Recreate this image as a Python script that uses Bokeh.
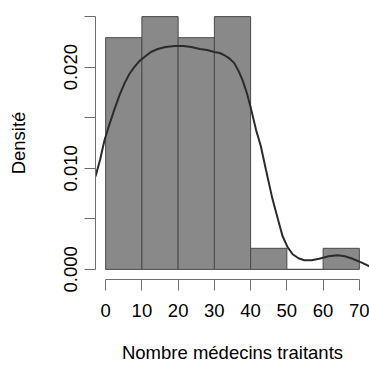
from bokeh.plotting import figure
from bokeh.models import Range1d, FixedTicker
from bokeh.embed import file_html
from bokeh.resources import INLINE

# Histogram classes (number of treating doctors) and their counts
breaks = [0, 10, 20, 30, 40, 50, 60, 70]
counts = [11, 12, 11, 12, 1, 0, 1]

# Kernel density estimate, sampled along x
kde_x = [-2.8, -1.5, -0.3, 1.0, 2.4, 3.8, 5.2, 6.5, 7.9, 9.3, 10.7, 12.5, 14.4,
         16.5, 19.0, 21.5, 23.6, 26.0, 28.0, 30.0, 31.5, 32.7, 34.0, 35.5, 36.7,
         37.8, 39.0, 40.1, 41.5, 42.8, 44.2, 46.0, 47.5, 48.8, 50.2, 51.6, 53.2,
         54.8, 56.8, 58.9, 61.5, 64.0, 66.0, 68.1, 70.5, 72.8]
kde_y = [0.0092, 0.0109, 0.0128, 0.0143, 0.0158, 0.0172, 0.0184, 0.0193, 0.0200,
         0.0206, 0.0210, 0.0215, 0.0218, 0.0220, 0.0221, 0.0221, 0.0220, 0.0218,
         0.0217, 0.0215, 0.0214, 0.0212, 0.0209, 0.0204, 0.0196, 0.0187, 0.0174,
         0.0159, 0.0138, 0.0122, 0.0099, 0.0070, 0.0050, 0.0033, 0.0022, 0.0015,
         0.0011, 0.0009, 0.0009, 0.00105, 0.0013, 0.0014, 0.0013, 0.00105, 0.0007,
         0.0003]

x_ticks = [0, 10, 20, 30, 40, 50, 60, 70]
y_ticks = [0.0, 0.005, 0.010, 0.015, 0.020, 0.025]
y_labels = {0.0: "0.000", 0.005: "", 0.010: "0.010", 0.015: "", 0.020: "0.020", 0.025: ""}

total = sum(counts)
lefts = breaks[:-1]
rights = breaks[1:]
density = [c / (total * (r - l)) for c, l, r in zip(counts, lefts, rights)]

FONT = "Liberation Sans"
SIZE = "18.5px"

p = figure(width=369, height=365, output_backend="svg", toolbar_location=None,
           x_range=Range1d(-2.8, 72.8), y_range=Range1d(-0.001, 0.026),
           min_border_left=95, min_border_right=0, min_border_top=6,
           min_border_bottom=85)
p.outline_line_color = None
p.xgrid.grid_line_color = None
p.ygrid.grid_line_color = None
p.background_fill_color = "white"
p.border_fill_color = "white"

p.quad(left=lefts, right=rights, top=density, bottom=0,
       fill_color="#898989", line_color="#4a4a4a", line_width=1)
p.line(kde_x, kde_y, line_color="#2b2b2b", line_width=2)

for ax in (p.xaxis[0], p.yaxis[0]):
    ax.axis_line_color = "#6e6e6e"
    ax.major_tick_line_color = "#6e6e6e"
    ax.minor_tick_line_color = None
    ax.major_tick_in = 0
    ax.major_tick_out = 11
    ax.major_label_text_font = FONT
    ax.major_label_text_font_size = SIZE
    ax.major_label_text_color = "black"
    ax.axis_label_text_font = FONT
    ax.axis_label_text_font_size = SIZE
    ax.axis_label_text_font_style = "normal"
    ax.axis_label_text_color = "black"

xa = p.xaxis[0]
xa.ticker = FixedTicker(ticks=x_ticks)
xa.bounds = (0, 70)
xa.major_label_standoff = 13
xa.axis_label = "Nombre médecins traitants"
xa.axis_label_standoff = 22

ya = p.yaxis[0]
ya.ticker = FixedTicker(ticks=y_ticks)
ya.bounds = (0, 0.025)
ya.major_label_overrides = y_labels
ya.major_label_orientation = "vertical"
ya.major_label_standoff = 7
ya.axis_label = "Densité"
ya.axis_label_standoff = 33

open("out.html", "w").write(file_html(p, INLINE))
